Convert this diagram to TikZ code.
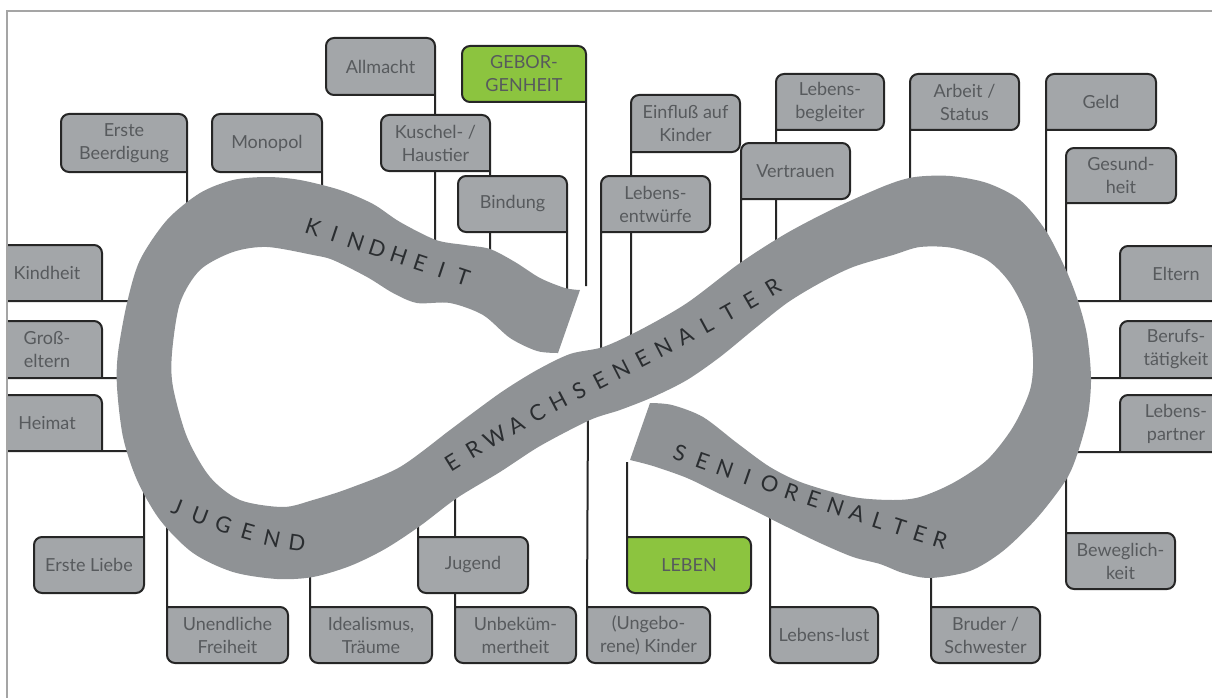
\documentclass[tikz,border=0pt]{standalone}
\usepackage{fontspec}
\newfontfamily\lato{Lato}
\definecolor{bandgray}{HTML}{8F9295}
\definecolor{boxgray}{HTML}{A3A6A9}
\definecolor{boxtext}{HTML}{575A5D}
\definecolor{bandtext}{HTML}{2A2D30}
\definecolor{lgreen}{HTML}{8CC43F}
\definecolor{framegray}{HTML}{A5A5A5}
\pgfdeclarelayer{bg}
\pgfsetlayers{bg,main}
\newcommand\boxfont{\lato\fontsize{18}{23}\selectfont}
\newcommand\bandfont{\lato\fontsize{22}{22}\selectfont}
\newcommand\fDR[3][boxshape]{\filldraw[#1] (#2.south east) -- (#2.south west) -- (#2.north west) -- (#2.north east) -- (#2.south east) -- (#3);}
\newcommand\fDL[3][boxshape]{\filldraw[#1] (#2.south west) -- (#2.south east) -- (#2.north east) -- (#2.north west) -- (#2.south west) -- (#3);}
\newcommand\fUL[3][boxshape]{\filldraw[#1] (#2.north west) -- (#2.north east) -- (#2.south east) -- (#2.south west) -- (#2.north west) -- (#3);}
\newcommand\fUR[3][boxshape]{\filldraw[#1] (#2.north east) -- (#2.north west) -- (#2.south west) -- (#2.south east) -- (#2.north east) -- (#3);}
\newcommand\fLL[3][boxshape]{\filldraw[#1] (#2.south west) -- (#2.north west) -- (#2.north east) -- (#2.south east) -- (#2.south west) -- (#3);}
\newcommand\fRR[3][boxshape]{\filldraw[#1] (#2.south east) -- (#2.north east) -- (#2.north west) -- (#2.south west) -- (#2.south east) -- (#3);}
\begin{document}
\begin{tikzpicture}[x=1pt,y=-1pt,
  lbl/.style={text=boxtext, font=\boxfont, align=center, inner sep=0pt, outer sep=0pt},
  boxshape/.style={draw=black!85, line width=2pt, fill=boxgray, rounded corners=8pt, line join=round},
  greenshape/.style={boxshape, fill=lgreen},
  band/.style={fill=bandgray},
  bandletter/.style={font=\bandfont, text=bandtext, inner sep=0pt, anchor=center, sloped}
]
\useasboundingbox (0,0) rectangle (1212,698);

% ---------- label nodes ----------
\node[lbl, minimum width=126, minimum height=58] (erste) at (124,143) {Erste\\Beerdigung};
\node[lbl, minimum width=110, minimum height=58] (monopol) at (267,143) {Monopol};
\node[lbl, minimum width=109, minimum height=57] (allmacht) at (380.5,66.5) {Allmacht};
\node[lbl, minimum width=109, minimum height=56] (kuschel) at (435.5,143) {Kuschel- /\\Haustier};
\node[lbl, minimum width=124, minimum height=56] (geborgen) at (524,74) {GEBOR-\\GENHEIT};
\node[lbl, minimum width=109, minimum height=56] (bindung) at (512.5,204) {Bindung};
\node[lbl, minimum width=109, minimum height=57] (einfluss) at (685.5,123.5) {Einfluß auf\\Kinder};
\node[lbl, minimum width=109, minimum height=56] (entwuerfe) at (655.5,204) {Lebens-\\entwürfe};
\node[lbl, minimum width=108, minimum height=56] (begleiter) at (830,102) {Lebens-\\begleiter};
\node[lbl, minimum width=109, minimum height=56] (vertrauen) at (795.5,171) {Vertrauen};
\node[lbl, minimum width=109, minimum height=56] (arbeit) at (964.5,102) {Arbeit /\\Status};
\node[lbl, minimum width=110, minimum height=56] (geld) at (1101,102) {Geld};
\node[lbl, minimum width=110, minimum height=55] (gesund) at (1121,175.5) {Gesund-\\heit};
\node[lbl, minimum width=112, minimum height=55] (eltern) at (1176,273.5) {Eltern};
\node[lbl, minimum width=112, minimum height=57] (berufs) at (1176,349.5) {Berufs-\\tätigkeit};
\node[lbl, minimum width=112, minimum height=57] (partner) at (1176,423.5) {Lebens-\\partner};
\node[lbl, minimum width=110, minimum height=56] (kindheit) at (47,273) {Kindheit};
\node[lbl, minimum width=110, minimum height=57] (grosseltern) at (47,349.5) {Groß-\\eltern};
\node[lbl, minimum width=110, minimum height=56] (heimat) at (47,423) {Heimat};
\node[lbl, minimum width=110, minimum height=56] (liebe) at (89,565) {Erste Liebe};
\node[lbl, minimum width=121, minimum height=56] (freiheit) at (227.5,635) {Unendliche\\Freiheit};
\node[lbl, minimum width=122, minimum height=56] (ideal) at (371,635) {Idealismus,\\Träume};
\node[lbl, minimum width=110, minimum height=56] (jugend) at (473,565) {Jugend};
\node[lbl, minimum width=121, minimum height=56] (unbek) at (515.5,635) {Unbeküm-\\mertheit};
\node[lbl, minimum width=123, minimum height=56] (kinder) at (648.5,635) {(Ungebo-\\rene) Kinder};
\node[lbl, minimum width=124, minimum height=56] (leben) at (689,565) {LEBEN};
\node[lbl, minimum width=108, minimum height=56] (lust) at (824,635) {Lebens-lust};
\node[lbl, minimum width=109, minimum height=56] (bruder) at (985.5,635) {Bruder /\\Schwester};
\node[lbl, minimum width=109, minimum height=56] (beweg) at (1120.5,561) {Beweglich-\\keit};

% ---------- pole ends on the band ----------
\coordinate (erste-p) at (187,218);
\coordinate (monopol-p) at (322,195);
\coordinate (allmacht-p) at (435,252);
\coordinate (kuschel-p) at (490,258);
\coordinate (geborgen-p) at (586,286);
\coordinate (bindung-p) at (567,298);
\coordinate (einfluss-p) at (631,345);
\coordinate (entwuerfe-p) at (601,358);
\coordinate (begleiter-p) at (776,250);
\coordinate (vertrauen-p) at (741,275);
\coordinate (arbeit-p) at (910,190);
\coordinate (geld-p) at (1046,242);
\coordinate (gesund-p) at (1066,282);
\coordinate (eltern-p) at (1068,301);
\coordinate (berufs-p) at (1082,378);
\coordinate (partner-p) at (1068,452);
\coordinate (kindheit-p) at (137,301);
\coordinate (grosseltern-p) at (126,378);
\coordinate (heimat-p) at (137,451);
\coordinate (liebe-p) at (144,484);
\coordinate (freiheit-p) at (167,520);
\coordinate (ideal-p) at (310,566);
\coordinate (jugend-p) at (418,514);
\coordinate (unbek-p) at (455,486);
\coordinate (kinder-p) at (588,410);
\coordinate (leben-p) at (627,462);
\coordinate (lust-p) at (770,506);
\coordinate (bruder-p) at (931,566);
\coordinate (beweg-p) at (1066,470);

\begin{pgfonlayer}{bg}
\begin{scope}
\clip (7,11) rectangle (1212,698);
% boxes with their poles (boxes in front of other poles come later)
\fDR{erste}{erste-p}
\fDR{monopol}{monopol-p}
\fDR{allmacht}{allmacht-p}
\fDR{kuschel}{kuschel-p}
\fDR[greenshape]{geborgen}{geborgen-p}
\fDR{bindung}{bindung-p}
\fDL{einfluss}{einfluss-p}
\fDL{entwuerfe}{entwuerfe-p}
\fDL{begleiter}{begleiter-p}
\fDL{vertrauen}{vertrauen-p}
\fDL{arbeit}{arbeit-p}
\fDL{geld}{geld-p}
\fDL{gesund}{gesund-p}
\fLL{eltern}{eltern-p}
\fLL{berufs}{berufs-p}
\fLL{partner}{partner-p}
\fRR{kindheit}{kindheit-p}
\fRR{grosseltern}{grosseltern-p}
\fRR{heimat}{heimat-p}
\fUR{liebe}{liebe-p}
\fUL{freiheit}{freiheit-p}
\fUL{ideal}{ideal-p}
\fUL{unbek}{unbek-p}
\fUL{jugend}{jugend-p}
\fUL{kinder}{kinder-p}
\fUL[greenshape]{leben}{leben-p}
\fUL{lust}{lust-p}
\fUL{bruder}{bruder-p}
\fUL{beweg}{beweg-p}

% ---------- the figure-eight band ----------
\fill[band] plot[smooth, tension=0.5] coordinates {
 (580,290) (565,288) (540,278) (515,262) (490,249) (465,245) (436,240) (400,222)
 (373,204) (340,190) (300,180) (267,177) (233,180) (200,193) (167,220) (140,260)
 (127,303) (118,353) (117,387) (123,437) (137,480) (160,520) (193,553) (233,572)
 (277,579) (313,577) (350,566) (385,549) (420,526) (457,498) (500,472) (540,446)
 (590,420) (620,410) (653,397) (687,380) (720,357) (753,330) (787,303) (820,283)
 (853,267) (893,255) (920,247) (953,248) (987,260) (1010,283) (1027,317) (1033,357)
 (1030,390) (1013,427) (987,460) (953,483) (920,497) (893,500) (853,497) (803,483)
 (770,467) (737,443) (703,417) (672,405) (650,403)}
 -- plot[smooth, tension=0.5] coordinates {
 (630,460) (653,466) (687,478) (720,494) (753,510) (787,527) (820,543) (853,557)
 (880,564) (903,573) (930,578) (970,571) (1003,551) (1037,518) (1066,480) (1078,452)
 (1088,415) (1091,378) (1087,335) (1078,301) (1066,270) (1046,231) (1020,200) (987,183)
 (950,176) (915,177) (887,185) (837,207) (787,233) (740,263) (687,303) (640,330)
 (603,347) (570,354) (537,370) (503,391) (470,415) (450,430) (400,467) (350,488)
 (313,500) (283,507) (240,500) (210,477) (187,437) (173,387) (172,353) (180,303)
 (200,270) (233,252) (267,247) (313,255) (333,260) (367,277) (393,293) (417,303)
 (450,303) (483,315) (510,338) (537,351) (558,353)}
 -- cycle;
\end{scope}
\end{pgfonlayer}

% ---------- words on the band ----------
\foreach \ch [count=\i] in {K,I,N,D,H,E,I,T} {
  \pgfmathsetmacro\p{(\i-1)/7}
  \path (313,227) -- (463,277) node[bandletter, pos=\p] (wk\i) {\ch};
}
\foreach \ch [count=\i] in {J,U,G,E,N,D} {
  \pgfmathsetmacro\p{(\i-1)/5}
  \path (177,507) .. controls (215,522) and (255,537) .. (297,543) node[bandletter, pos=\p] (wj\i) {\ch};
}
\foreach \ch [count=\i] in {E,R,W,A,C,H,S,E,N,E,N,A,L,T,E,R} {
  \pgfmathsetmacro\p{(\i-1)/15}
  \path (452,462) .. controls (560,395) and (660,355) .. (773,287) node[bandletter, pos=\p] (we\i) {\ch};
}
\foreach \ch [count=\i] in {S,E,N,I,O,R,E,N,A,L,T,E,R} {
  \pgfmathsetmacro\p{(\i-1)/12}
  \path (680,453) .. controls (770,485) and (860,515) .. (940,540) node[bandletter, pos=\p] (ws\i) {\ch};
}

% ---------- frame ----------
\draw[framegray, line width=1.2pt] (7,698) -- (7,11) -- (1212,11);
\end{tikzpicture}
\end{document}
